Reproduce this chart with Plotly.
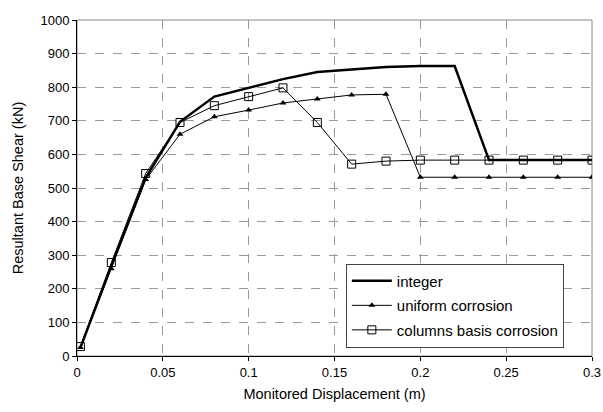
import plotly.graph_objects as go

disp = [0.002, 0.02, 0.04, 0.06, 0.08, 0.10, 0.12, 0.14, 0.16, 0.18, 0.20, 0.22, 0.24, 0.26, 0.28, 0.30]
integer = [25, 268, 530, 697, 772, 798, 824, 845, 852, 860, 863, 863, 583, 583, 583, 583]
uniform = [25, 260, 525, 660, 712, 732, 753, 765, 777, 779, 532, 532, 532, 532, 532, 532]
columns = [28, 278, 543, 695, 745, 772, 798, 695, 571, 580, 583, 583, 583, 583, 583, 583]

fig = go.Figure()
fig.add_trace(go.Scatter(x=disp, y=integer, name="integer", mode="lines", legendgroup="a",
                         line=dict(color="black", width=2.5)))
fig.add_trace(go.Scatter(x=disp, y=uniform, name="uniform corrosion", mode="lines+markers", legendgroup="b",
                         line=dict(color="black", width=1),
                         marker=dict(symbol="triangle-up", size=6, color="black")))
fig.add_trace(go.Scatter(x=disp, y=columns, name="columns basis corrosion", mode="lines+markers", legendgroup="c",
                         line=dict(color="black", width=1),
                         marker=dict(symbol="square-open", size=8, color="black", line=dict(width=1))))

fig.update_layout(
    width=603, height=412,
    margin=dict(l=77, r=11, t=20, b=56),
    paper_bgcolor="white", plot_bgcolor="white",
    font=dict(family="Liberation Sans, Arial, sans-serif", size=13, color="black"),
    showlegend=True,
    legend=dict(x=0.522, y=0.275, xanchor="left", yanchor="top",
                bgcolor="white", bordercolor="#444", borderwidth=1,
                font=dict(size=15), traceorder="grouped", tracegroupgap=2,
                itemwidth=40),
)
fig.update_xaxes(range=[0, 0.3], dtick=0.05, tick0=0, automargin=False,
                 showline=True, linecolor="black", linewidth=1, mirror=False,
                 ticks="outside", ticklen=4, tickcolor="black",
                 showgrid=True, gridcolor="#999", griddash="dash", gridwidth=1,
                 zeroline=False,
                 title=dict(text="Monitored Displacement (m)", font=dict(size=14.5), standoff=10))
fig.update_yaxes(range=[0, 1000], dtick=100, tick0=0, automargin=False,
                 showline=True, linecolor="black", linewidth=1,
                 ticks="outside", ticklen=4, tickcolor="black",
                 showgrid=True, gridcolor="#999", griddash="dash", gridwidth=1,
                 zeroline=False,
                 title=dict(text="Resultant Base Shear (kN)", font=dict(size=14.5), standoff=13))
fig.add_shape(type="rect", xref="paper", yref="paper", x0=0, y0=0, x1=1, y1=1,
              line=dict(color="#888", width=1), layer="below")
fig.write_html("out.html", config={"displayModeBar": False},
               post_script="document.body.style.margin='0';document.body.style.overflow='hidden';")
